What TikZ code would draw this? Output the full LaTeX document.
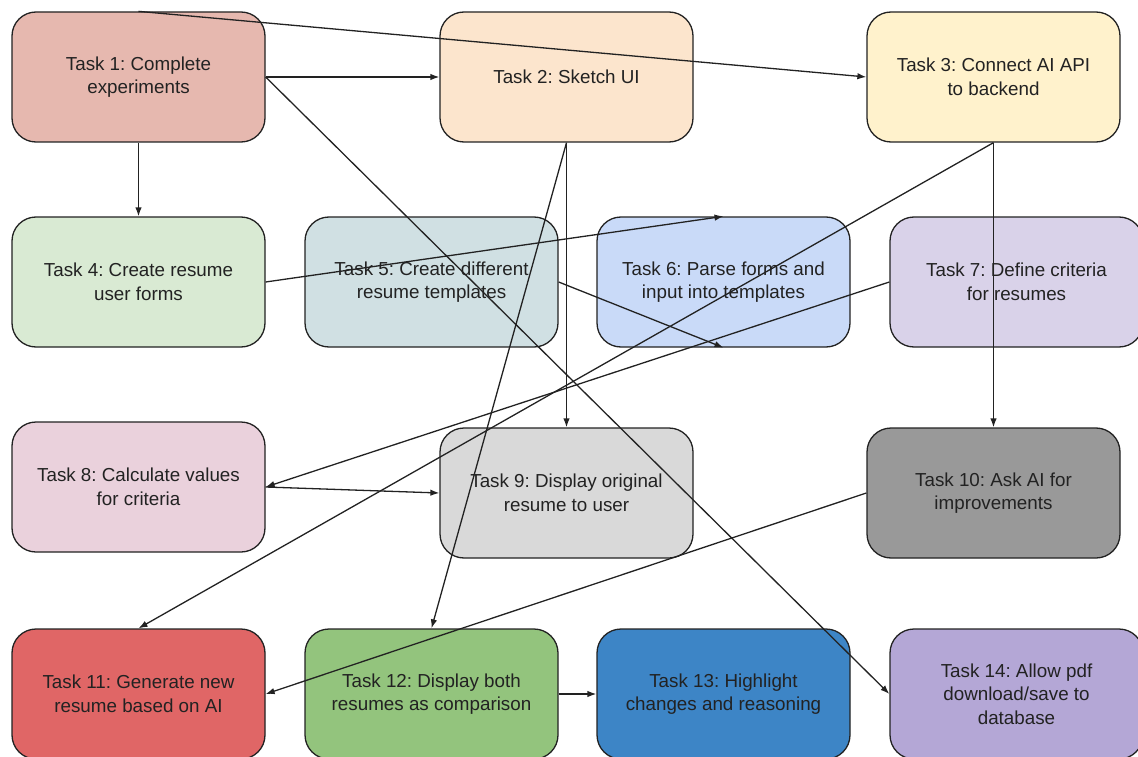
\documentclass[tikz,border=0pt]{standalone}
\usepackage{fontspec}
\setmainfont{Liberation Sans}
\usetikzlibrary{arrows.meta}
\frenchspacing
\definecolor{c1}{HTML}{E6B8AF}
\definecolor{c2}{HTML}{FCE5CD}
\definecolor{c3}{HTML}{FFF2CC}
\definecolor{c4}{HTML}{D9EAD3}
\definecolor{c5}{HTML}{D0E0E3}
\definecolor{c6}{HTML}{C9DAF8}
\definecolor{c7}{HTML}{D9D2E9}
\definecolor{c8}{HTML}{EAD1DC}
\definecolor{c9}{HTML}{D9D9D9}
\definecolor{c10}{HTML}{999999}
\definecolor{c11}{HTML}{E06666}
\definecolor{c12}{HTML}{93C47D}
\definecolor{c13}{HTML}{3D85C6}
\definecolor{c14}{HTML}{B4A7D6}
\definecolor{ink}{HTML}{222222}
\begin{document}
\begin{tikzpicture}[x=1pt,y=-1pt,
  task/.style={draw=ink, line width=1.3pt, rounded corners=24pt,
    minimum width=253pt, minimum height=130pt, align=center,
    font=\frenchspacing\fontsize{18.8}{23.5}\selectfont, inner sep=0pt, text=ink},
  link/.style={draw=ink, line width=1.3pt, -{Latex[length=9pt,width=6.5pt]}}]
\useasboundingbox (0,0) rectangle (1138,757);
\clip (0,0) rectangle (1138,757);
% row 1
\node[task, fill=c1] (t1) at (138.5,77) {Task 1: Complete\\experiments};
\node[task, fill=c2] (t2) at (566.5,77) {Task 2: Sketch UI};
\node[task, fill=c3] (t3) at (993.5,77) {Task 3: Connect AI API\\to backend};
% row 2
\node[task, fill=c4] (t4) at (138.5,282) {Task 4: Create resume\\user forms};
\node[task, fill=c5] (t5) at (431.5,282) {Task 5: Create different\\resume templates};
\node[task, fill=c6] (t6) at (723.5,282) {Task 6: Parse forms and\\input into templates};
\node[task, fill=c7] (t7) at (1016.5,282) {Task 7: Define criteria\\for resumes};
% row 3
\node[task, fill=c8] (t8) at (138.5,487) {Task 8: Calculate values\\for criteria};
\node[task, fill=c9] (t9) at (566.5,493) {Task 9: Display original\\resume to user};
\node[task, fill=c10] (t10) at (993.5,493) {Task 10: Ask AI for\\improvements};
% row 4
\node[task, fill=c11] (t11) at (138.5,694) {Task 11: Generate new\\resume based on AI};
\node[task, fill=c12] (t12) at (431.5,694) {Task 12: Display both\\resumes as comparison};
\node[task, fill=c13] (t13) at (723.5,694) {Task 13: Highlight\\changes and reasoning};
\node[task, fill=c14] (t14) at (1016.5,694) {Task 14: Allow pdf\\download/save to\\database};
% connectors
\draw[link] (t1.east) -- (t2.west);
\draw[link] (t1.north) -- (t3.west);
\draw[link] (t1.south) -- (t4.north);
\draw[link] (t1.east) -- (t14.west);
\draw[link] (t4.east) -- (t6.north);
\draw[link] (t5.east) -- (t6.south);
\draw[link] (t2.south) -- (t9.north);
\draw[link] (t2.south) -- (t12.north);
\draw[link] (t3.south) -- (t10.north);
\draw[link] (t3.south) -- (t11.north);
\draw[link] (t7.west) -- (t8.east);
\draw[link] (t8.east) -- (t9.west);
\draw[link] (t10.west) -- (t11.east);
\draw[link] (t12.east) -- (t13.west);
\end{tikzpicture}
\end{document}
